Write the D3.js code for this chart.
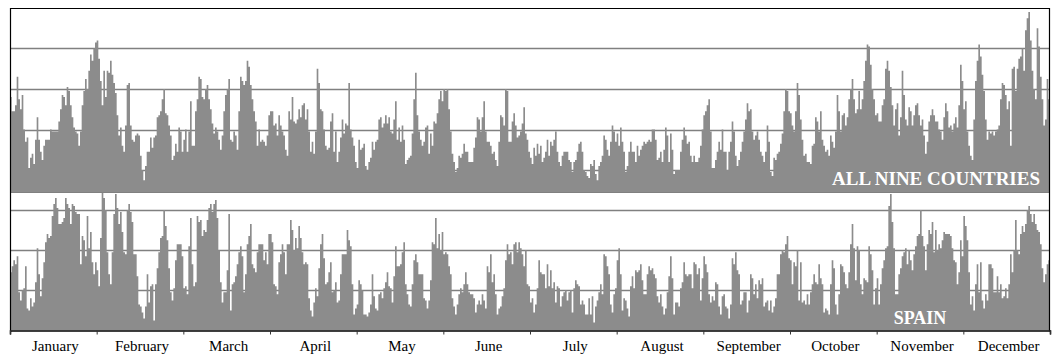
<!DOCTYPE html>
<html><head><meta charset="utf-8">
<script src="https://cdn.jsdelivr.net/npm/d3@7"></script>
<style>body{margin:0;background:#fff}svg{display:block}</style>
</head><body><svg id="c" width="1059" height="359"></svg>
<script>
const months = ["January","February","March","April","May","June","July","August","September","October","November","December"];
const topGridValues = [20,40,60,80];
const bottomGridValues = [20,40,60];
const allNine = [
56,49,49,52,66,55,50,57,40,34,36,21,26,28,23,35,46,35,29,25,32,35,35,35,40,39,39,39,39,44,
50,57,56,52,61,59,52,46,41,39,38,32,39,52,59,65,60,69,77,74,80,83,84,75,64,52,69,56,69,68,
74,67,63,58,47,37,41,32,29,42,62,63,42,35,34,37,38,37,27,20,15,22,29,29,36,31,36,37,46,47,
49,55,60,48,47,42,37,25,27,33,29,41,39,29,35,40,29,39,54,32,32,49,55,66,65,56,55,60,62,55,
50,43,38,41,39,35,30,37,49,57,60,65,35,34,39,37,30,49,66,64,62,64,74,71,62,55,49,44,32,40,
34,35,34,32,37,47,
49,49,42,43,37,47,42,39,37,30,27,49,45,56,44,43,45,50,46,52,53,45,50,39,29,34,28,39,70,63,
50,49,40,32,30,31,44,48,29,39,24,29,36,45,38,43,42,63,40,36,32,24,21,35,30,31,33,22,20,24,
26,34,30,34,35,45,46,41,43,47,43,46,39,38,45,54,35,41,34,42,35,23,25,26,27,38,55,68,47,39,
35,32,34,41,42,28,38,32,44,43,48,55,59,54,60,59,60,50,39,28,24,19,21,27,26,28,33,29,29,24,
24,24,31,36,46,45,39,46,54,39,34,34,32,28,29,25,22,34,47,46,42,60,59,34,34,44,48,42,36,37,
39,43,51,38,35,29,26,23,31,27,
33,28,32,24,26,29,35,27,34,32,35,39,29,24,22,27,29,29,29,25,24,19,24,25,29,33,34,29,20,19,
17,16,23,22,25,18,15,22,24,27,37,35,30,27,34,42,39,34,38,32,41,34,29,19,22,29,34,29,29,24,
32,27,30,32,34,33,34,35,34,40,40,35,25,26,29,24,30,41,37,24,38,30,18,20,20,20,29,35,41,37,
33,34,27,24,27,24,24,26,32,40,47,49,52,55,39,21,21,25,29,34,30,40,29,29,20,29,34,44,39,27,
22,25,29,34,39,45,53,49,50,39,35,37,39,35,29,27,24,29,42,34,19,17,26,25,28,29,33,38,49,60,
59,49,48,42,39,49,63,57,45,
35,27,28,24,24,23,32,33,46,44,39,49,35,32,29,30,27,37,34,31,39,57,49,39,47,48,42,46,55,60,
65,55,48,50,59,50,55,64,74,82,81,72,60,55,47,48,44,44,52,55,70,74,69,61,52,42,50,53,37,46,
69,57,45,42,51,49,42,47,52,53,47,42,45,37,28,34,44,47,50,47,44,44,40,39,35,46,53,49,41,42,
39,43,46,41,52,72,64,50,54,39,32,27,25,45,64,74,82,76,67,59,45,35,39,38,39,37,39,40,42,55,
63,62,57,50,54,32,70,71,59,70,75,76,80,69,89,95,98,84,69,60,55,90,81,66,55,42,45,65,55
];
const spain = [
29,32,35,33,37,19,15,20,21,32,11,10,16,12,14,24,41,28,17,26,34,44,48,46,47,57,63,66,61,53,
53,54,56,66,63,61,53,63,62,59,58,58,33,47,45,37,57,41,49,34,28,34,30,22,46,69,66,60,39,28,
23,39,58,68,61,53,59,49,39,38,60,63,59,54,38,38,27,13,12,9,6,12,28,14,22,23,5,23,31,39,
46,47,60,52,45,31,19,15,21,35,43,43,43,37,21,22,18,42,56,33,22,24,57,54,55,47,50,49,55,61,
63,59,63,65,56,40,24,14,19,19,30,58,10,23,24,27,33,39,42,37,19,28,43,47,53,33,31,29,39,43,
43,43,35,39,33,48,
48,44,23,22,18,34,38,43,39,28,43,43,55,50,40,46,41,52,46,39,33,34,33,16,10,7,14,21,17,31,
43,48,36,23,24,29,34,19,20,24,14,15,28,38,38,38,50,45,42,23,8,11,13,25,23,20,8,8,7,9,
13,28,17,11,10,18,19,16,21,24,29,22,21,14,27,42,32,32,33,39,44,23,18,13,12,23,35,38,34,28,
28,28,16,15,11,15,25,44,43,56,41,48,40,49,38,39,38,32,28,16,12,8,13,18,21,19,23,29,23,19,
18,18,16,9,13,15,13,18,15,11,32,29,38,24,28,18,8,11,12,17,21,35,43,38,39,33,43,44,39,44,
41,38,32,40,23,22,14,16,9,13,
21,35,29,28,28,21,33,22,30,21,24,14,22,21,12,17,19,20,15,19,20,9,21,25,23,22,13,15,13,8,
8,16,8,17,4,12,15,19,23,18,38,37,32,28,13,9,18,21,35,41,28,10,16,15,11,7,22,27,21,30,
29,30,33,25,18,18,28,32,30,31,28,26,17,14,18,12,8,11,19,27,37,26,8,14,14,12,21,24,34,28,
27,28,28,21,34,33,28,31,15,26,37,33,29,18,14,17,15,24,23,12,8,17,18,12,11,6,13,36,33,39,
30,28,13,15,19,19,9,15,28,26,18,23,16,25,23,26,12,14,15,10,15,9,12,16,28,28,38,40,39,43,
47,36,35,23,34,32,40,15,34,
14,15,13,18,13,19,23,28,24,23,33,26,23,9,11,10,8,23,35,31,13,8,18,33,32,29,23,21,29,43,
53,41,25,42,40,23,18,26,25,24,42,38,30,13,21,26,13,23,31,35,41,42,62,68,54,41,18,18,28,31,
37,39,41,33,40,35,30,38,42,47,48,60,47,42,30,43,50,48,54,39,50,40,43,41,45,49,48,48,48,47,
41,35,34,23,29,45,37,57,52,45,29,13,17,10,23,33,19,34,15,11,18,15,33,33,31,19,19,27,19,23,
16,17,21,16,23,38,29,40,55,40,38,48,52,49,53,60,62,58,54,58,53,50,49,43,31,24,28,33,35
];

const FILL = "#8c8c8c", GRID = "#808080";
const L = 10, R = 1050, topY = 8, midY = 192.5, botY = 330.5;
const svg = d3.select("#c");
const x = d3.scaleLinear().domain([0, 12]).range([L, R]);
const yTop = d3.scaleLinear().domain([0, 100]).range([210.5, topY]);
const yBot = d3.scaleLinear().domain([0, 60]).range([botY, 210]);
const crisp = v => Math.round(v) + 0.5;

function seriesPoints(arr) {
  const n = arr.length;
  const pts = arr.map((v, i) => ({t: i * 12 / n, v}));
  pts.push({t: 12, v: arr[n - 1]});
  return pts;
}

const defs = svg.append("defs");
defs.append("clipPath").attr("id", "clipTop").append("rect")
  .attr("x", L).attr("y", topY).attr("width", R - L).attr("height", midY - topY);
defs.append("clipPath").attr("id", "clipBot").append("rect")
  .attr("x", L).attr("y", midY).attr("width", R - L).attr("height", botY - midY);

// grid lines (behind areas)
const gTop = svg.append("g");
gTop.selectAll("line").data(topGridValues).join("line")
  .attr("x1", L).attr("x2", R)
  .attr("y1", d => crisp(yTop(d))).attr("y2", d => crisp(yTop(d)))
  .attr("stroke", GRID).attr("stroke-width", 1.3);
const gBot = svg.append("g");
gBot.selectAll("line").data(bottomGridValues).join("line")
  .attr("x1", L).attr("x2", R)
  .attr("y1", d => crisp(yBot(d))).attr("y2", d => crisp(yBot(d)))
  .attr("stroke", GRID).attr("stroke-width", 1.3);

// areas
const areaTop = d3.area().curve(d3.curveStepAfter)
  .x(d => x(d.t)).y0(midY).y1(d => yTop(d.v));
svg.append("path").datum(seriesPoints(allNine))
  .attr("clip-path", "url(#clipTop)")
  .attr("fill", FILL).attr("d", areaTop);

const areaBot = d3.area().curve(d3.curveStepAfter)
  .x(d => x(d.t)).y0(botY).y1(d => yBot(d.v));
svg.append("path").datum(seriesPoints(spain))
  .attr("clip-path", "url(#clipBot)")
  .attr("fill", FILL).attr("d", areaBot);

// frame
svg.append("line").attr("x1", L).attr("x2", R).attr("y1", topY + 0.5).attr("y2", topY + 0.5)
  .attr("stroke", "#000").attr("stroke-width", 1.2);
svg.append("line").attr("x1", L).attr("x2", R).attr("y1", midY).attr("y2", midY)
  .attr("stroke", GRID).attr("stroke-width", 1);
svg.append("line").attr("x1", L + 0.5).attr("x2", L + 0.5).attr("y1", topY).attr("y2", botY)
  .attr("stroke", "#000").attr("stroke-width", 1.2);
svg.append("line").attr("x1", R - 0.5).attr("x2", R - 0.5).attr("y1", topY).attr("y2", botY)
  .attr("stroke", "#000").attr("stroke-width", 1.2);

// bottom axis with month ticks
const axisTicks = d3.axisBottom(x).tickValues(d3.range(13)).tickSize(4).tickFormat("");
const ga = svg.append("g").attr("transform", `translate(0,${botY})`).call(axisTicks);
ga.select(".domain").attr("stroke", "#000").attr("stroke-width", 1.6);
ga.selectAll(".tick line").attr("stroke", "#333");

const axisLabels = d3.axisBottom(x).tickValues(d3.range(12).map(k => k + 0.5))
  .tickSize(0).tickPadding(0).tickFormat(d => months[Math.floor(d)]);
const gl = svg.append("g").attr("transform", `translate(0,${botY})`).call(axisLabels);
gl.select(".domain").remove();
gl.selectAll("text").attr("font-family", "'Liberation Serif','Times New Roman',serif")
  .attr("font-size", 15).attr("fill", "#000").attr("dy", null).attr("y", 20.5)
  .attr("dx", 1.5);

// panel labels
svg.append("text").attr("x", 1040).attr("y", 185).attr("text-anchor", "end")
  .attr("font-family", "'Liberation Serif','Times New Roman',serif").attr("font-weight", "bold")
  .attr("font-size", 19).attr("fill", "#fff").text("ALL NINE COUNTRIES");
svg.append("text").attr("x", 920).attr("y", 324).attr("text-anchor", "middle")
  .attr("font-family", "'Liberation Serif','Times New Roman',serif").attr("font-weight", "bold")
  .attr("font-size", 18).attr("fill", "#fff").text("SPAIN");
</script></body></html>
